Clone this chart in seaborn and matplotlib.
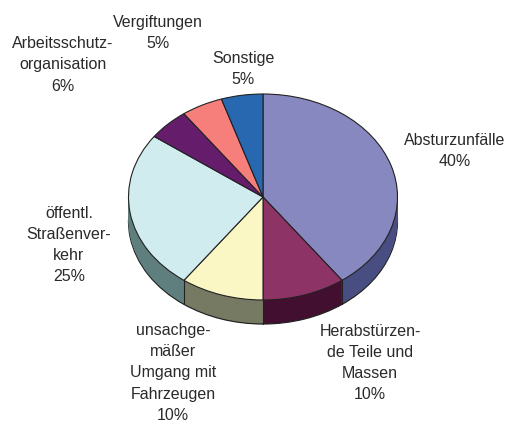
import matplotlib
matplotlib.use("Agg")
import numpy as np
import matplotlib.pyplot as plt
import seaborn as sns

labels = ["Absturzunfälle\n40%", "Herabstürzen-\nde Teile und\nMassen\n10%",
          "unsachge-\nmäßer\nUmgang mit\nFahrzeugen\n10%", "öffentl.\nStraßenver-\nkehr\n25%",
          "Arbeitsschutz-\norganisation\n6%", "Vergiftungen\n5%", "Sonstige\n5%"]
# slices as drawn, the 6% slice is no bigger than its neighbours in the picture
values = [40, 10, 10, 25, 5, 5, 5]
top_colors = ["#8788BF", "#8E3365", "#FBF7C4", "#D0ECEE", "#651C6B", "#F67F7B", "#2868B0"]
side_colors = ["#484E82", "#430F30", "#777A62", "#5F7F7F", "#330E36", "#7B403E", "#143458"]
label_x = [455, 370, 173, 69, 63, 158, 243]
label_y = [151, 363, 373, 245, 65, 33, 69]

W, H = 507, 426
cx, cy, rx, ry = 263, 197, 134.5, 103
depth = 24 / ry

sns.set_theme(style="white")
plt.rcParams['font.family'] = ['Liberation Sans', 'DejaVu Sans']

fig = plt.figure(figsize=(W / 100, H / 100), dpi=100)
ax = fig.add_axes([0, 0, 1, 1])

# side of the pie: same slices stacked downwards, lowest one carries the outline
ax.pie(values, colors=side_colors, startangle=90, counterclock=False,
       center=(0, -depth), wedgeprops={"linewidth": 0.9, "edgecolor": "#222222"})
steps = 24
for i in range(steps - 1, 0, -1):
    ax.pie(values, colors=side_colors, startangle=90, counterclock=False,
           center=(0, -depth * i / steps), wedgeprops={"linewidth": 0})
top, _ = ax.pie(values, colors=sns.color_palette(top_colors), startangle=90, counterclock=False,
                wedgeprops={"linewidth": 0.8, "edgecolor": "#222222"})

# seams on the visible front side
for w in top:
    a = np.deg2rad(w.theta2)
    if np.sin(a) < 0.01:
        ax.plot([np.cos(a)] * 2, [np.sin(a), np.sin(a) - depth], color="#222222", lw=0.8)

ax.set_aspect("auto")
ax.set_xlim(-cx / rx, (W - cx) / rx)
ax.set_ylim(-(H - cy) / ry, cy / ry)
ax.axis("off")

for lab, x, y in zip(labels, label_x, label_y):
    fig.text(x / W, 1 - y / H, lab, ha="center", va="center", fontsize=11.5,
             color="#2a2a2a", linespacing=1.52)

fig.savefig("out.png", dpi=100)
